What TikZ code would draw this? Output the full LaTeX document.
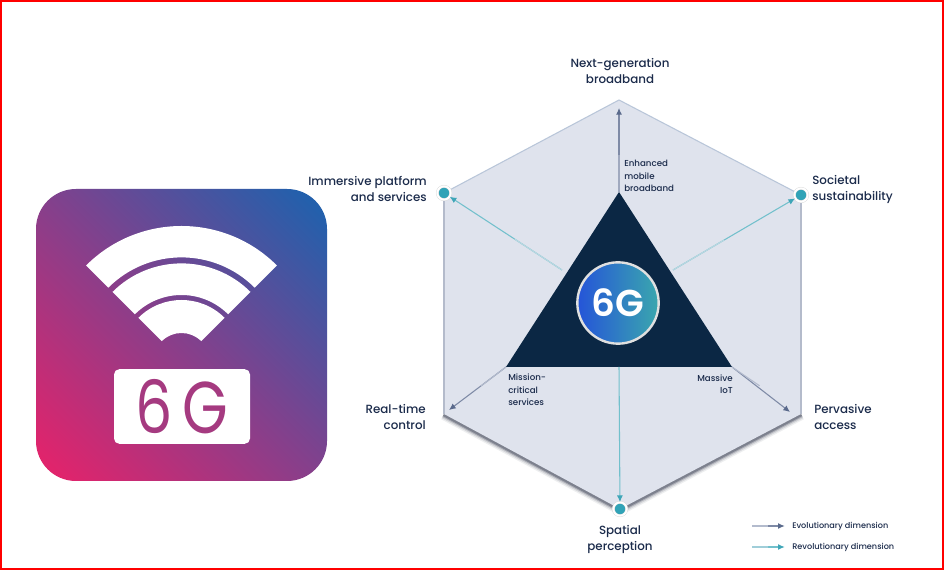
\documentclass[tikz,border=0pt]{standalone}
\usepackage{fontspec}
\setmainfont{Poppins Medium}
\usetikzlibrary{arrows.meta,calc}
\definecolor{inktext}{HTML}{1B2B4B}
\definecolor{hexfill}{HTML}{DFE3ED}
\definecolor{hextop}{HTML}{B9C6D9}
\definecolor{hexside}{HTML}{B4BBCB}
\definecolor{hexlow}{HTML}{5F6474}
\definecolor{navytri}{HTML}{0B2744}
\definecolor{evoline}{HTML}{7E8AA6}
\definecolor{evotip}{HTML}{5A6A8C}
\definecolor{revoline}{HTML}{72C0CC}
\definecolor{revotip}{HTML}{3FA6B8}
\definecolor{dotteal}{HTML}{31A3B7}
\definecolor{iconpink}{HTML}{E0246C}
\definecolor{iconmid}{HTML}{84408C}
\definecolor{iconblue}{HTML}{2360AC}
\definecolor{iconsix}{HTML}{A53A80}
\definecolor{badgeleft}{HTML}{2555D8}
\definecolor{badgeright}{HTML}{3AA6AE}
\pgfdeclareverticalshading{iconramp}{100bp}{color(0bp)=(iconpink); color(18bp)=(iconpink); color(50bp)=(iconmid); color(82bp)=(iconblue); color(100bp)=(iconblue)}
\tikzset{
  biglabel/.style={text=inktext, inner sep=0pt, font=\fontsize{8.9}{12}\selectfont},
  smalllabel/.style={text=inktext, inner sep=0pt, font=\fontsize{6.5}{9.4}\selectfont},
  legendlabel/.style={text=inktext, inner sep=0pt, anchor=west, font=\fontsize{6.1}{8}\selectfont},
  evoarrow/.style={evoline, line width=0.8pt, -{Latex[length=5pt,width=4.5pt,color=evotip]}},
  revoarrow/.style={revoline, line width=0.8pt, -{Latex[length=5pt,width=4.5pt,color=revotip]}},
  tealdot/.style={circle, draw=black!15, line width=0.3pt, double=white, double distance=1.4pt, fill=dotteal, minimum size=10pt, inner sep=0pt},
}
\begin{document}
\begin{tikzpicture}[x=0.75pt, y=0.75pt]
  \useasboundingbox (0,0) rectangle (944,570);
  % frame
  \fill[white] (0,0) rectangle (944,570);
  \draw[red, line width=1.5pt] (1,1) rectangle (943,568.5);

  % icon on the left
  \shade[rounded corners=30pt, shading=iconramp, shading angle=-45]
    (36,89) rectangle (327,381);
  \fill[white] (181.5,209) ++(135:135) arc (135:45:135) -- ++(225:31.4) arc (45:135:103.6) -- cycle;
  \fill[white] (181.5,209) ++(135:97.6) arc (135:45:97.6) -- ++(225:31.6) arc (45:135:66) -- cycle;
  \fill[white] (181.5,209) ++(135:61) arc (135:45:61) -- ++(225:33) arc (45:135:28) -- cycle;
  \node[fill=white, rounded corners=4pt, minimum width=102pt, minimum height=56pt, inner sep=0pt] (sixgtag) at (182,163.5) {};
  \node[text=iconsix, inner sep=0pt, xscale=0.8, transform shape,
    font=\fontsize{55}{55}\selectfont\fontspec{Poppins}] (sixgtext) at (sixgtag) {6\,G};

  % hexagon
  \coordinate (hextopv) at (619,470);
  \coordinate (hexur) at (801,375);
  \coordinate (hexlr) at (801,156);
  \coordinate (hexbot) at (620,61);
  \coordinate (hexll) at (444,156);
  \coordinate (hexul) at (444,377);
  \foreach \wd/\op in {9pt/.1, 7pt/.18, 5pt/.35, 3.4pt/.6}
    \draw[hexlow, line width=\wd, opacity=\op] (hexll) -- (hexbot) -- (hexlr);
  \fill[hexfill] (hextopv) -- (hexur) -- (hexlr) -- (hexbot) -- (hexll) -- (hexul) -- cycle;
  \draw[hextop, line width=0.8pt] (hexul) -- (hextopv) -- (hexur);
  \draw[hexside, line width=1.5pt] (hexul) -- (hexll);
  \draw[hexside, line width=1.5pt] (hexur) -- (hexlr);

  % triangle and badge
  \node[circle, inner sep=0pt, minimum size=0pt] (tritop) at (619,378) {};
  \node[circle, inner sep=0pt, minimum size=0pt] (trileft) at (506,203) {};
  \node[circle, inner sep=0pt, minimum size=0pt] (triright) at (732,203) {};
  \fill[navytri] (tritop.center) -- (trileft.center) -- (triright.center) -- cycle;
  \coordinate (revoul) at (562,300);
  \coordinate (revour) at (673,300);
  \coordinate (revobot) at (619,203);
  \shade[left color=badgeleft, right color=badgeright] (618,267) circle (40);
  \node[circle, draw=white!88!black, line width=1.8pt, minimum size=61pt, inner sep=0pt, text=white,
    font=\fontsize{28}{28}\selectfont\fontspec{Poppins SemiBold}] (badge) at (618,267) {6G};

  % dots
  \node[tealdot] (dotul) at (hexul) {};
  \node[tealdot] (dotur) at (hexur) {};
  \node[tealdot] (dotbot) at (hexbot) {};

  % arrows
  \draw[evoarrow] (tritop.center) -- (619,462);
  \draw[evoarrow] (trileft.center) -- (449,160);
  \draw[evoarrow] (triright.center) -- (790,158);
  \draw[revoarrow] (revoul) -- (dotul);
  \draw[revoarrow] (revour) -- (dotur);
  \draw[revoarrow] (revobot) -- (dotbot);

  % labels
  \node[biglabel, align=center] (nextgen) at (620,499) {Next-generation\\broadband};
  \node[biglabel, align=right, anchor=east] (immersive) at (427,381) {Immersive platform\\and services};
  \node[biglabel, align=left, anchor=west] (societal) at (812,381) {Societal\\sustainability};
  \node[biglabel, align=right, anchor=east] (realtime) at (426,153) {Real-time\\control};
  \node[biglabel, align=left, anchor=west] (pervasive) at (814,153) {Pervasive\\access};
  \node[biglabel, align=center] (spatial) at (620,31) {Spatial\\perception};
  \node[smalllabel, align=left, anchor=west] (enhanced) at (624,394) {Enhanced\\mobile\\broadband};
  \node[smalllabel, align=left, anchor=west] (mission) at (508,180) {Mission-\\critical\\services};
  \node[smalllabel, align=right, anchor=east] (massive) at (733,186) {Massive\\IoT};

  % legend
  \node[legendlabel] (evolabel) at (792,44) {Evolutionary dimension};
  \node[legendlabel] (revolabel) at (792,23) {Revolutionary dimension};
  \coordinate (evostart) at (752,44);
  \coordinate (revostart) at (752,23);
  \draw[evoarrow] (evostart) -- ([xshift=-5.5pt]evolabel.west);
  \draw[revoarrow] (revostart) -- ([xshift=-5.5pt]revolabel.west);

  % lighter start of the arrows
  \foreach \from/\to in {revoul/dotul, revour/dotur, revostart/revolabel.west}
    \draw[revoline!35!hexfill, line width=0.8pt] (\from) -- ($(\from)!.4!(\to)$);
  \foreach \from/\to in {tritop.center/hextopv, trileft.center/hexll, triright.center/hexlr, evostart/evolabel.west}
    \draw[evoline!45!hexfill, line width=0.8pt] (\from) -- ($(\from)!.4!(\to)$);
\end{tikzpicture}
\end{document}
